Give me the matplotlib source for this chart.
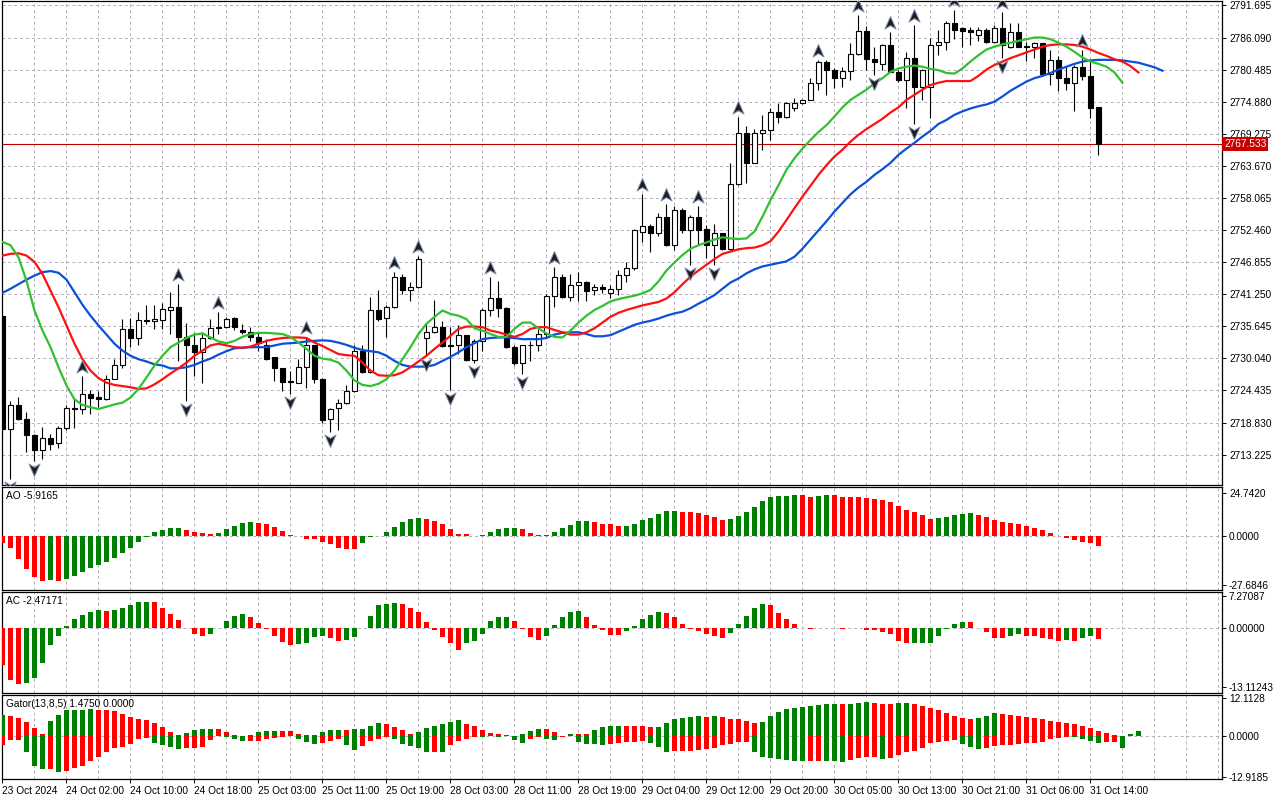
import numpy as np
import matplotlib
matplotlib.use("Agg")
import matplotlib.pyplot as plt
from matplotlib.path import Path
from matplotlib.transforms import offset_copy, blended_transform_factory

plt.rcParams['font.family'] = ['Liberation Sans', 'DejaVu Sans']

W, H = 1280, 800

# XAUUSD H1, 23 Oct 2024 - 31 Oct 2024
opens = [
    2737.5, 2717.7, 2721.9, 2719.4, 2716.6, 2714.0, 2716.2, 2715.2, 2717.9, 2721.3,
    2721.2, 2723.8, 2723.3, 2722.9, 2726.5, 2728.8, 2735.2, 2733.6, 2736.8, 2736.5,
    2736.8, 2738.5, 2739.1, 2733.7, 2732.3, 2731.1, 2733.6, 2735.5, 2735.6, 2737.1,
    2735.0, 2734.7, 2733.8, 2732.4, 2730.2, 2728.3, 2726.0, 2725.8, 2728.5, 2732.3,
    2726.4, 2719.4, 2721.3, 2722.2, 2724.3, 2731.4, 2727.6, 2738.5, 2737.1, 2739.1,
    2744.3, 2742.0, 2742.5, 2733.6, 2734.6, 2735.6, 2732.3, 2732.4, 2734.1, 2729.7,
    2733.1, 2738.5, 2740.6, 2738.9, 2732.1, 2729.2, 2732.3, 2732.4, 2734.3, 2741.0,
    2744.3, 2740.7, 2742.8, 2743.4, 2742.0, 2742.5, 2741.4, 2742.1, 2744.6, 2745.8,
    2752.2, 2753.1, 2751.9, 2754.8, 2749.9, 2755.9, 2752.5, 2754.7, 2752.6, 2749.9,
    2751.9, 2749.1, 2760.5, 2769.5, 2764.2, 2769.5, 2769.9, 2773.0, 2772.2, 2773.8,
    2774.6, 2775.2, 2778.1, 2781.9, 2780.5, 2779.0, 2780.2, 2783.2, 2787.2, 2782.3,
    2781.5, 2784.8, 2780.1, 2778.6, 2782.5, 2777.5, 2777.5, 2784.8, 2785.4, 2788.6,
    2787.7, 2787.4, 2786.5, 2787.5, 2785.4, 2787.7, 2784.5, 2787.1, 2784.7, 2784.5,
    2785.1, 2779.8, 2782.2, 2779.1, 2778.1, 2781.0, 2779.4, 2773.9,
]
highs = [
    2738.0, 2722.6, 2723.3, 2720.6, 2716.8, 2718.1, 2716.9, 2718.2, 2721.9, 2722.9,
    2726.9, 2724.5, 2724.4, 2727.2, 2729.9, 2736.9, 2737.1, 2738.1, 2739.3, 2739.3,
    2739.8, 2741.7, 2743.1, 2736.3, 2734.4, 2734.6, 2736.9, 2738.2, 2737.3, 2737.2,
    2736.0, 2735.6, 2734.6, 2733.4, 2730.3, 2728.4, 2727.9, 2729.9, 2733.7, 2732.3,
    2726.7, 2721.3, 2722.9, 2725.4, 2732.3, 2732.3, 2740.7, 2742.0, 2739.3, 2745.1,
    2744.8, 2743.4, 2748.0, 2736.3, 2740.2, 2736.5, 2735.5, 2735.8, 2734.2, 2733.4,
    2738.9, 2744.2, 2743.6, 2739.0, 2732.3, 2732.4, 2733.1, 2735.2, 2741.3, 2746.0,
    2744.8, 2744.8, 2745.1, 2743.6, 2743.1, 2743.1, 2742.9, 2745.4, 2746.9, 2752.6,
    2758.8, 2753.5, 2755.4, 2757.0, 2756.7, 2756.4, 2755.1, 2756.7, 2753.3, 2753.5,
    2752.0, 2764.1, 2772.2, 2770.6, 2770.2, 2772.6, 2773.7, 2774.6, 2774.9, 2775.5,
    2775.4, 2779.1, 2782.2, 2782.1, 2780.7, 2781.0, 2785.1, 2790.0, 2788.1, 2784.5,
    2785.0, 2787.1, 2780.4, 2783.6, 2788.3, 2780.6, 2786.0, 2787.5, 2788.9, 2790.9,
    2788.0, 2787.9, 2787.9, 2787.7, 2788.3, 2790.6, 2788.7, 2788.6, 2785.4, 2785.4,
    2785.2, 2784.0, 2782.9, 2781.1, 2781.3, 2783.9, 2782.1, 2773.9,
]
lows = [
    2717.0, 2708.9, 2719.2, 2713.6, 2712.1, 2712.4, 2714.1, 2714.4, 2717.6, 2717.8,
    2720.3, 2720.3, 2721.5, 2722.8, 2726.4, 2728.3, 2732.1, 2732.3, 2736.0, 2735.1,
    2735.1, 2734.3, 2729.6, 2722.6, 2727.0, 2725.8, 2733.4, 2734.3, 2735.4, 2735.0,
    2734.3, 2733.1, 2731.4, 2729.8, 2726.1, 2724.4, 2723.9, 2725.7, 2724.9, 2725.8,
    2718.8, 2717.1, 2717.6, 2722.0, 2724.2, 2727.5, 2727.5, 2736.5, 2733.8, 2738.9,
    2741.3, 2740.1, 2742.4, 2730.5, 2734.5, 2732.0, 2724.5, 2730.8, 2729.6, 2729.2,
    2731.4, 2737.5, 2737.2, 2731.9, 2728.8, 2727.3, 2729.6, 2731.4, 2733.7, 2739.0,
    2740.6, 2740.1, 2740.0, 2740.0, 2741.2, 2741.4, 2740.6, 2741.1, 2743.3, 2745.5,
    2750.4, 2748.7, 2751.4, 2749.7, 2749.0, 2751.9, 2746.4, 2749.9, 2747.5, 2746.4,
    2749.0, 2749.0, 2760.4, 2760.7, 2764.1, 2766.4, 2768.2, 2771.1, 2772.0, 2773.2,
    2774.5, 2775.1, 2777.0, 2776.0, 2777.2, 2777.4, 2778.7, 2783.0, 2780.4, 2779.6,
    2780.4, 2780.0, 2778.4, 2773.7, 2771.0, 2775.2, 2772.0, 2783.0, 2784.0, 2785.9,
    2784.4, 2784.8, 2785.5, 2785.1, 2785.1, 2782.5, 2784.2, 2784.4, 2782.0, 2782.6,
    2779.7, 2777.8, 2776.8, 2776.9, 2773.3, 2778.6, 2772.0, 2765.6,
]
closes = [
    2717.7, 2721.9, 2719.4, 2716.6, 2714.1, 2716.2, 2715.1, 2717.9, 2721.3, 2721.2,
    2723.8, 2723.2, 2722.9, 2726.5, 2728.9, 2735.2, 2733.6, 2736.8, 2736.6, 2736.9,
    2738.7, 2739.0, 2733.7, 2732.3, 2731.1, 2733.6, 2735.4, 2735.3, 2736.9, 2735.6,
    2734.7, 2733.8, 2732.8, 2729.9, 2728.3, 2726.0, 2726.1, 2728.6, 2732.3, 2726.4,
    2719.2, 2721.2, 2722.2, 2724.3, 2731.4, 2727.6, 2738.5, 2736.9, 2739.1, 2744.3,
    2742.0, 2742.5, 2747.4, 2734.6, 2735.6, 2732.2, 2732.2, 2734.1, 2729.7, 2733.1,
    2738.5, 2740.6, 2738.9, 2732.0, 2729.2, 2732.3, 2732.4, 2734.3, 2741.0, 2744.3,
    2740.7, 2742.8, 2743.4, 2741.9, 2742.5, 2742.2, 2742.1, 2744.6, 2745.8, 2752.4,
    2753.1, 2751.9, 2754.8, 2749.9, 2755.9, 2752.5, 2754.7, 2752.5, 2749.9, 2751.9,
    2749.1, 2760.5, 2769.5, 2764.2, 2769.5, 2769.9, 2773.0, 2772.3, 2774.6, 2774.6,
    2775.2, 2778.1, 2781.9, 2780.5, 2779.0, 2780.2, 2783.2, 2787.2, 2782.3, 2781.9,
    2784.8, 2780.1, 2778.6, 2782.5, 2777.5, 2780.4, 2784.8, 2785.4, 2788.6, 2787.5,
    2787.3, 2787.1, 2787.5, 2785.4, 2787.7, 2784.8, 2787.1, 2784.5, 2784.5, 2785.1,
    2779.8, 2782.2, 2779.1, 2778.2, 2781.0, 2779.4, 2773.7, 2767.533,
]

# Alligator lines as drawn (already shifted forward by 8 / 5 / 3 bars)
jaw = [
    2741.5, 2742.2, 2743.0, 2743.8, 2744.5, 2745.1, 2745.3, 2745.0, 2743.8, 2741.6,
    2739.4, 2737.5, 2735.8, 2734.2, 2732.6, 2731.4, 2730.5, 2729.9, 2729.5, 2729.0,
    2728.8, 2728.3, 2728.3, 2728.5, 2728.9, 2729.5, 2730.0, 2730.7, 2731.3, 2731.8,
    2731.9, 2732.0, 2732.0, 2732.0, 2732.3, 2732.6, 2732.7, 2732.8, 2733.0, 2733.1,
    2733.2, 2733.1, 2732.8, 2732.4, 2731.9, 2731.5, 2731.3, 2731.1, 2730.5, 2729.6,
    2728.9, 2728.6, 2728.6, 2728.6, 2728.9, 2729.6, 2730.3, 2731.1, 2732.0, 2732.7,
    2733.4, 2733.6, 2733.7, 2733.7, 2733.6, 2733.4, 2733.4, 2733.4, 2733.6, 2734.2,
    2734.5, 2734.6, 2734.6, 2734.3, 2733.9, 2733.9, 2734.1, 2734.7, 2735.3, 2735.9,
    2736.3, 2736.6, 2737.0, 2737.5, 2737.9, 2738.2, 2738.8, 2739.6, 2740.3, 2741.1,
    2742.2, 2743.3, 2744.0, 2744.9, 2745.6, 2746.1, 2746.4, 2746.7, 2747.0, 2747.8,
    2749.2, 2750.8, 2752.4, 2754.0, 2755.7, 2757.2, 2758.7, 2759.9, 2760.9, 2762.1,
    2763.1, 2764.2, 2765.6, 2766.7, 2767.7, 2768.8, 2769.8, 2771.0, 2771.7, 2772.6,
    2773.2, 2773.7, 2774.1, 2774.4, 2774.9, 2775.8, 2776.8, 2777.6, 2778.4, 2779.0,
    2779.4, 2779.9, 2780.5, 2781.0, 2781.5, 2781.9, 2782.1, 2782.2, 2782.2, 2782.2,
    2782.1, 2781.9, 2781.7, 2781.3, 2780.9, 2780.3,
]
teeth = [
    2748.0, 2748.3, 2748.4, 2748.0, 2746.9, 2744.8, 2741.9, 2739.0, 2735.8, 2732.6,
    2729.9, 2727.9, 2726.6, 2725.8, 2725.4, 2725.2, 2725.0, 2724.7, 2724.8, 2725.5,
    2726.4, 2727.4, 2728.3, 2729.3, 2730.5, 2731.4, 2732.3, 2732.6, 2732.3, 2732.0,
    2731.9, 2732.1, 2732.6, 2733.1, 2733.4, 2733.6, 2733.7, 2733.7, 2733.6, 2732.8,
    2732.2, 2731.5, 2730.8, 2730.6, 2730.5, 2729.3, 2727.9, 2727.1, 2727.0, 2727.1,
    2727.6, 2728.5, 2729.5, 2730.5, 2731.7, 2732.8, 2734.0, 2735.2, 2735.6, 2735.6,
    2735.5, 2734.9, 2734.6, 2734.2, 2733.8, 2734.3, 2735.2, 2735.5, 2735.5, 2735.0,
    2734.6, 2734.2, 2734.2, 2734.6, 2735.3, 2736.3, 2737.3, 2738.0, 2738.5, 2738.9,
    2739.3, 2739.6, 2739.9, 2740.5, 2741.6, 2743.0, 2744.3, 2745.4, 2746.4, 2747.4,
    2748.3, 2748.7, 2749.1, 2749.3, 2749.4, 2749.8, 2750.5, 2752.2, 2754.2, 2756.3,
    2758.3, 2760.2, 2762.1, 2763.8, 2765.3, 2766.5, 2767.9, 2769.1, 2770.1, 2771.0,
    2771.9, 2773.0, 2773.9, 2775.2, 2776.1, 2777.0, 2777.8, 2778.2, 2778.5, 2778.5,
    2778.5, 2778.5, 2779.4, 2780.5, 2781.3, 2781.9, 2782.5, 2783.0, 2783.5, 2784.0,
    2784.5, 2784.8, 2784.9, 2784.9, 2784.8, 2784.5, 2784.0, 2783.4, 2782.9, 2782.3,
    2781.9, 2781.1, 2780.0,
]
lips = [
    2750.4, 2749.8, 2747.7, 2743.6, 2738.4, 2734.9, 2732.0, 2728.5, 2725.3, 2722.9,
    2721.9, 2721.5, 2721.2, 2721.6, 2722.0, 2722.3, 2723.2, 2724.7, 2726.7, 2728.8,
    2730.5, 2732.0, 2732.8, 2733.6, 2734.2, 2734.4, 2733.7, 2733.0, 2732.7, 2733.1,
    2733.8, 2734.3, 2734.5, 2734.5, 2734.4, 2734.3, 2733.8, 2732.8, 2731.7, 2730.5,
    2730.0, 2729.8, 2729.3, 2727.9, 2726.2, 2725.4, 2725.2, 2725.6, 2726.4, 2727.9,
    2729.9, 2732.0, 2734.3, 2736.1, 2737.3, 2738.4, 2737.8, 2737.5, 2736.9, 2735.3,
    2734.9, 2734.3, 2733.8, 2733.8, 2735.2, 2736.3, 2736.3, 2735.3, 2734.4, 2733.8,
    2733.7, 2734.9, 2736.3, 2737.5, 2738.5, 2739.2, 2740.0, 2740.4, 2740.7, 2741.0,
    2741.4, 2742.0, 2743.5, 2745.4, 2746.8, 2748.1, 2749.2, 2749.8, 2750.3, 2750.8,
    2751.2, 2751.0, 2750.9, 2751.0, 2752.2, 2754.8, 2757.7, 2760.3, 2763.0, 2765.0,
    2766.7, 2768.2, 2769.6, 2770.8, 2772.3, 2773.9, 2775.2, 2776.1, 2777.0, 2778.1,
    2779.0, 2780.1, 2780.7, 2781.0, 2781.2, 2781.0, 2780.6, 2780.4, 2779.9, 2779.8,
    2780.7, 2781.9, 2783.0, 2784.0, 2784.5, 2784.9, 2785.2, 2785.5, 2785.8, 2786.1,
    2786.1, 2785.8, 2785.2, 2784.5, 2783.6, 2782.6, 2781.9, 2781.5, 2781.0, 2780.0,
    2778.2,
]

fractal_up = [10, 22, 27, 38, 49, 52, 61, 69, 80, 83, 87, 92, 102, 107, 111, 114, 119, 125, 135]
fractal_down = [1, 4, 23, 36, 41, 53, 56, 59, 65, 86, 89, 109, 114, 125]

ao = [
    -4.0, -6.65, -13.1, -18.8, -23.2, -25.5, -25.1, -25.5, -24.5, -22.8,
    -20.3, -18.2, -16.5, -14.6, -12.4, -9.5, -6.8, -3.2, -0.4, 2.3,
    3.4, 4.6, 4.7, 3.4, 2.3, 1.9, 1.1, 1.9, 4.0, 5.9,
    7.6, 7.7, 7.5, 7.0, 5.3, 3.0, 0.6, -0.1, -1.9, -2.0,
    -3.2, -4.75, -6.65, -7.6, -7.7, -3.8, -0.8, 0.1, 2.5, 5.2,
    8.2, 9.9, 10.5, 9.9, 8.6, 7.0, 4.2, 1.3, 1.2, 0.2,
    0.3, 2.5, 4.2, 4.75, 4.8, 4.2, 1.9, 0.5, 0.6, 2.5,
    4.75, 6.5, 8.4, 8.7, 8.2, 7.0, 6.65, 5.9, 5.95, 7.0,
    8.9, 10.5, 12.4, 14.1, 14.4, 13.9, 13.8, 13.3, 12.2, 11.0,
    9.3, 9.9, 11.6, 13.9, 16.7, 20.1, 22.4, 22.5, 23.0, 23.4,
    23.3, 22.4, 23.0, 23.2, 23.1, 22.4, 22.3, 22.2, 21.7, 21.2,
    20.6, 19.5, 17.2, 14.9, 13.8, 12.1, 9.8, 10.4, 11.0, 12.1,
    12.7, 13.2, 12.1, 11.0, 9.3, 8.1, 7.6, 7.0, 5.9, 4.75,
    3.6, 1.9, -0.1, -1.0, -2.5, -3.2, -4.2, -5.9165,
]
ac = [
    -8.3, -11.5, -12.4, -12.3, -11.2, -7.7, -3.7, -1.7, 0.45, 2.0,
    3.05, 3.7, 4.0, 3.8, 4.0, 4.5, 5.1, 5.8, 5.95, 5.8,
    4.5, 3.1, 1.8, -0.05, -1.3, -1.8, -1.3, -0.03, 1.5, 2.7,
    3.1, 2.5, 1.1, -0.1, -1.7, -3.1, -3.7, -3.6, -3.3, -2.0,
    -1.8, -2.2, -2.8, -2.6, -2.0, -0.05, 2.7, 5.1, 5.4, 5.6,
    5.5, 4.5, 3.6, 1.3, -0.3, -1.9, -3.4, -4.8, -3.3, -2.9,
    -1.3, 1.6, 2.5, 2.55, 1.6, -0.15, -1.9, -2.6, -1.7, 0.7,
    2.5, 3.6, 3.8, 2.5, 0.7, -0.4, -1.5, -1.55, -0.6, 0.45,
    2.0, 2.9, 3.6, 3.35, 2.5, 0.9, -0.15, -0.6, -1.3, -1.7,
    -2.2, -1.0, 0.9, 2.7, 4.5, 5.4, 5.1, 3.35, 2.0, 0.9,
    -0.05, -0.1, 0.05, 0.0, -0.05, -0.1, -0.05, 0.05, -0.3, -0.5,
    -0.75, -1.2, -2.75, -3.4, -3.35, -3.3, -3.25, -1.85, -0.2, 0.95,
    1.4, 1.35, 0.0, -0.95, -2.1, -2.15, -1.65, -1.4, -1.65, -1.7,
    -2.1, -2.5, -2.75, -2.7, -2.95, -2.3, -1.85, -2.47171,
]
gator_up = [
    6.7, 6.2, 5.7, 4.4, 2.5, 0.8, 4.6, 6.5, 8.2, 8.25,
    8.3, 8.35, 8.3, 8.2, 7.9, 6.8, 6.0, 5.25, 5.1, 4.0,
    2.8, 1.3, 0.2, 0.95, 1.9, 2.1, 2.3, 2.25, 1.25, 0.2,
    0.1, 0.3, 1.2, 1.5, 1.6, 1.55, 1.5, 0.8, 0.3, 0.2,
    1.26, 1.9, 1.95, 1.9, 2.2, 2.25, 3.15, 4.1, 3.8, 2.9,
    2.0, 0.75, 1.35, 2.4, 3.25, 3.9, 4.5, 5.15, 3.9, 3.25,
    2.0, 1.05, 0.75, 0.4, 0.1, 0.75, 1.7, 2.35, 2.3, 1.35,
    0.05, 0.75, 0.7, 0.65, 2.0, 2.9, 3.25, 3.3, 3.25, 3.2,
    3.15, 2.9, 2.95, 4.2, 5.5, 5.8, 6.1, 6.15, 6.1, 6.15,
    6.1, 5.5, 5.45, 4.8, 4.2, 4.5, 6.4, 7.7, 8.6, 8.9,
    9.2, 9.35, 9.65, 9.95, 10.0, 9.95, 10.0, 10.3, 10.6, 10.3,
    10.0, 9.95, 10.3, 10.35, 10.0, 9.35, 8.7, 8.1, 7.15, 6.2,
    5.55, 5.25, 5.55, 6.2, 7.15, 6.8, 6.5, 6.2, 5.9, 5.55,
    5.25, 4.6, 4.55, 4.0, 3.7, 3.05, 2.4, 1.45, 0.85, 0.2,
    0.05, 0.55, 1.475,
]
gator_down = [
    -2.7, -1.2, -1.15, -4.9, -9.45, -10.3, -10.2, -11.2, -11.0, -10.0,
    -9.3, -7.9, -6.5, -4.9, -3.9, -3.5, -2.4, -0.85, -0.5, -2.1,
    -2.7, -3.4, -4.0, -3.7, -3.6, -3.4, -1.2, -0.1, -0.2, -0.85,
    -1.7, -1.5, -1.45, -0.85, -0.5, -0.3, -0.1, -0.85, -1.8, -2.4,
    -2.1, -1.5, -1.05, -2.7, -4.3, -3.1, -1.5, -0.8, -0.4, -0.8,
    -2.6, -3.25, -3.9, -5.1, -4.9, -5.15, -2.9, -1.4, -1.05, -0.2,
    -0.4, -0.1, -0.4, -0.1, -1.35, -2.1, -1.05, -0.2, -1.05, -1.1,
    -0.4, -0.05, -2.0, -2.6, -2.65, -2.7, -2.6, -2.1, -1.8, -1.75,
    -1.7, -2.3, -3.35, -5.15, -4.8, -4.75, -4.6, -4.4, -4.2, -3.7,
    -2.9, -2.6, -1.8, -1.75, -5.1, -6.7, -6.75, -7.35, -7.65, -7.7,
    -7.9, -7.8, -7.75, -7.85, -7.9, -8.0, -7.5, -6.9, -6.5, -6.45,
    -7.1, -6.8, -5.9, -4.9, -4.6, -3.65, -2.1, -1.8, -1.5, -1.2,
    -2.4, -3.35, -4.0, -3.65, -3.0, -2.75, -2.7, -2.4, -2.1, -2.05,
    -1.8, -0.85, -0.5, -0.2, -0.4, -0.85, -1.45, -2.1, -1.9, -1.8,
    -3.7,
]

price_ticks = [2791.695, 2786.090, 2780.485, 2774.880, 2769.275, 2763.670, 2758.065,
               2752.460, 2746.855, 2741.250, 2735.645, 2730.040, 2724.435, 2718.830, 2713.225]
ao_ticks = [24.7420, 0.0, -27.6846]
ac_ticks = [7.27087, 0.0, -13.11243]
gator_ticks = [12.1128, 0.0, -12.9185]
time_labels = ['23 Oct 2024', '24 Oct 02:00', '24 Oct 10:00', '24 Oct 18:00', '25 Oct 03:00',
               '25 Oct 11:00', '25 Oct 19:00', '28 Oct 03:00', '28 Oct 11:00', '28 Oct 19:00',
               '29 Oct 04:00', '29 Oct 12:00', '29 Oct 20:00', '30 Oct 05:00', '30 Oct 13:00',
               '30 Oct 21:00', '31 Oct 06:00', '31 Oct 14:00']

GREEN = '#008000'
RED = '#ff0000'
GRID = '#b4aebb'
FS = 7.3

fig = plt.figure(figsize=(W / 100, H / 100), dpi=100)


def px_axes(x0, y0, x1, y1):
    return fig.add_axes([x0 / W, 1 - y1 / H, (x1 - x0) / W, (y1 - y0) / H])


ax = px_axes(2, 1, 1222, 485)
ax_ao = px_axes(2, 487, 1222, 590)
ax_ac = px_axes(2, 592, 1222, 693)
ax_gt = px_axes(2, 695, 1222, 779)
axes = [ax, ax_ao, ax_ac, ax_gt]

for a in axes:
    a.set_xlim(-0.06, 152.44)
    a.set_xticks(np.arange(4, 153, 4))
    a.grid(True, axis='x', which='major', color=GRID, lw=0.7, ls=(0, (3, 3)))
    a.tick_params(axis='x', which='major', bottom=False, labelbottom=False)
    a.yaxis.tick_right()
    a.tick_params(axis='y', direction='out', length=3, width=0.7, labelsize=FS, pad=2)
    for s in a.spines.values():
        s.set_color('black')
        s.set_linewidth(0.9)
    a.set_axisbelow(True)

# ---- main price panel ----
o = np.array(opens)
hi = np.array(highs)
lo = np.array(lows)
c = np.array(closes)
x = np.arange(len(o))
bull = c >= o
body_lo = np.minimum(o, c)
body_h = np.maximum(np.abs(c - o), 0.12)

ax.vlines(x, lo, hi, color='black', lw=0.8, zorder=3)
ax.bar(x[bull], body_h[bull], bottom=body_lo[bull], width=0.62, color='white',
       edgecolor='black', lw=0.8, zorder=4)
ax.bar(x[~bull], body_h[~bull], bottom=body_lo[~bull], width=0.62, color='black',
       edgecolor='black', lw=0.8, zorder=4)

ax.plot(np.arange(len(jaw)), jaw, color='#0a50d8', lw=1.6, zorder=5)
ax.plot(np.arange(len(teeth)), teeth, color='#ff1010', lw=1.6, zorder=5)
ax.plot(np.arange(len(lips)), lips, color='#30c030', lw=1.6, zorder=5)

up_arrow = Path([(0, 1), (0.8, -0.8), (0, -0.3), (-0.8, -0.8), (0, 1)],
                [Path.MOVETO, Path.LINETO, Path.LINETO, Path.LINETO, Path.CLOSEPOLY])
down_arrow = Path([(0, -1), (0.8, 0.8), (0, 0.3), (-0.8, 0.8), (0, -1)],
                  [Path.MOVETO, Path.LINETO, Path.LINETO, Path.LINETO, Path.CLOSEPOLY])
fu = np.array(fractal_up)
fd = np.array(fractal_down)
ax.plot(fu, hi[fu], ls='none', marker=up_arrow, ms=10, mfc='#1e1e1e', mec='#7f8fb0', mew=0.7,
        zorder=6, transform=offset_copy(ax.transData, fig=fig, y=9, units='dots'))
ax.plot(fd, lo[fd], ls='none', marker=down_arrow, ms=10, mfc='#1e1e1e', mec='#7f8fb0', mew=0.7,
        zorder=6, transform=offset_copy(ax.transData, fig=fig, y=-8, units='dots'))

ax.axhline(c[-1], color='#c00000', lw=0.8, zorder=2)

ax.set_ylim(2707.92, 2792.48)
ax.set_yticks(price_ticks)
ax.set_yticklabels(['%.3f' % p for p in price_ticks])
ax.grid(True, axis='y', color=GRID, lw=0.7, ls=(0, (3, 3)))
ax.annotate('%.3f' % c[-1], xy=(1, c[-1]),
            xycoords=blended_transform_factory(ax.transAxes, ax.transData),
            xytext=(1.5, 0), textcoords='offset points', ha='left', va='center',
            fontsize=FS, color='white', annotation_clip=False, zorder=10,
            bbox=dict(boxstyle='square,pad=0.18', fc='#c80000', ec='none'))


# ---- oscillators ----
def osc_colors(vals, first, use_abs=False):
    v = np.abs(vals) if use_abs else np.asarray(vals)
    cols = [first]
    for i in range(1, len(v)):
        cols.append(GREEN if v[i] > v[i - 1] else RED)
    return cols


ao_v = np.array(ao)
ax_ao.bar(np.arange(len(ao_v)), ao_v, width=0.55, color=osc_colors(ao_v, RED), zorder=3)
ax_ao.set_ylim(-30.8, 27.9)
ax_ao.set_yticks(ao_ticks)
ax_ao.set_yticklabels(['%.4f' % t for t in ao_ticks])
ax_ao.text(4 / 1220, 1 - 4 / 103, 'AO %.4f' % ao_v[-1], transform=ax_ao.transAxes,
           ha='left', va='top', fontsize=FS)

ac_v = np.array(ac)
ax_ac.bar(np.arange(len(ac_v)), ac_v, width=0.55, color=osc_colors(ac_v, RED), zorder=3)
ax_ac.set_ylim(-14.48, 8.09)
ax_ac.set_yticks(ac_ticks)
ax_ac.set_yticklabels(['%.5f' % t for t in ac_ticks])
ax_ac.text(4 / 1220, 1 - 4 / 101, 'AC %.5f' % ac_v[-1], transform=ax_ac.transAxes,
           ha='left', va='top', fontsize=FS)

gu = np.array(gator_up)
gd = np.array(gator_down)
ax_gt.bar(np.arange(len(gu)), gu, width=0.55, color=osc_colors(gu, GREEN), zorder=3)
ax_gt.bar(np.arange(len(gd)), gd, width=0.55, color=osc_colors(gd, RED, use_abs=True), zorder=3)
ax_gt.set_ylim(-13.5, 12.9)
ax_gt.set_yticks(gator_ticks)
ax_gt.set_yticklabels(['%.4f' % t for t in gator_ticks])
ax_gt.text(4 / 1220, 1 - 4 / 84, 'Gator(13,8,5) %.4f 0.0000' % gu[-1], transform=ax_gt.transAxes,
           ha='left', va='top', fontsize=FS)

for a in (ax_ao, ax_ac, ax_gt):
    a.axhline(0, color=GRID, lw=0.7, ls=(0, (3, 3)), zorder=1)

# time axis (minor ticks, so they may sit on the grid ticks)
ax_gt.xaxis.remove_overlapping_locs = False
label_pos = np.arange(0, 8 * len(time_labels), 8)
ax_gt.set_xticks(label_pos, minor=True)
ax_gt.set_xticklabels(time_labels, minor=True)
ax_gt.tick_params(axis='x', which='minor', bottom=True, labelbottom=True, direction='out',
                  length=3, width=0.7, labelsize=FS, pad=2)
for t in ax_gt.get_xticklabels(minor=True):
    t.set_ha('left')

fig.savefig('out.png', dpi=100, facecolor='white')
